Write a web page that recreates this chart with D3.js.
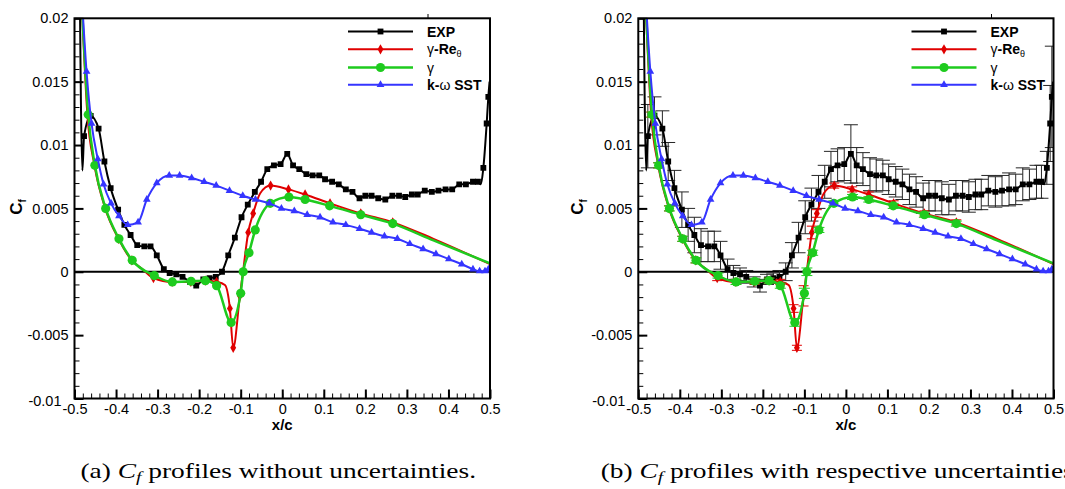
<!DOCTYPE html>
<html><head><meta charset="utf-8">
<script src="https://cdn.jsdelivr.net/npm/d3@7"></script>
<style>html,body{margin:0;padding:0;background:#fff;}svg{display:block;}</style>
</head><body>
<svg id="fig" width="1065" height="489"></svg>
<script>
// ---------- data ----------
const xTickVals = [-0.5,-0.4,-0.3,-0.2,-0.1,0,0.1,0.2,0.3,0.4,0.5];
const xTickLabels = ["-0.5","-0.4","-0.3","-0.2","-0.1","0","0.1","0.2","0.3","0.4","0.5"];
const yTickVals = [-0.01,-0.005,0,0.005,0.01,0.015,0.02];
const yTickLabels = ["-0.01","-0.005","0","0.005","0.01","0.015","0.02"];

const expX = [-0.488,-0.481,-0.477,-0.461,-0.442,-0.428,-0.413,-0.395,-0.380,-0.365,-0.349,-0.332,-0.317,-0.302,-0.285,-0.271,-0.255,-0.240,-0.222,-0.207,-0.190,-0.175,-0.160,-0.145,-0.130,-0.114,-0.098,-0.083,-0.066,-0.051,-0.036,-0.020,-0.004,0.012,0.026,0.041,0.058,0.073,0.089,0.103,0.120,0.136,0.153,0.169,0.186,0.200,0.215,0.231,0.248,0.265,0.281,0.296,0.312,0.326,0.343,0.360,0.376,0.393,0.409,0.426,0.442,0.459,0.471,0.478,0.484,0.492,0.496,0.499];
const expY = [0.0250,0.0080,0.0107,0.0123,0.0113,0.0087,0.0066,0.0049,0.0037,0.0029,0.0021,0.0020,0.0020,0.0013,0.0002,-0.0001,-0.0002,-0.0004,-0.0008,-0.0011,-0.0006,-0.0005,-0.0004,0.0000,0.0013,0.0027,0.0043,0.0053,0.0063,0.0071,0.0081,0.0084,0.0085,0.0093,0.0084,0.0081,0.0077,0.0076,0.0076,0.0073,0.0071,0.0069,0.0065,0.0063,0.0058,0.0060,0.0060,0.0058,0.0057,0.0060,0.0060,0.0059,0.0061,0.0061,0.0064,0.0063,0.0064,0.0065,0.0065,0.0069,0.0069,0.0071,0.0071,0.0069,0.0082,0.0117,0.0138,0.0150];
const expErr = [0,0,0.0025,0.0015,0.0014,0.0015,0.0014,0.0014,0.0013,0.0014,0.0013,0.0012,0.0012,0.0011,0.0008,0.0006,0.0005,0.0005,0.0004,0.0005,0.0004,0.0004,0.0005,0.0007,0.0010,0.0012,0.0013,0.0013,0.0013,0.0013,0.0014,0.0013,0.0013,0.0023,0.0014,0.0013,0.0013,0.0013,0.0012,0.0012,0.0012,0.0012,0.0012,0.0012,0.0012,0.0012,0.0012,0.0013,0.0012,0.0012,0.0012,0.0012,0.0012,0.0012,0.0012,0.0012,0.0012,0.0013,0.0012,0.0013,0.0012,0.0013,0.0013,0,0.0013,0.0030,0.0040,0];
const expUnmarked = [0,1,63,67];

const reX = [-0.483,-0.469,-0.452,-0.426,-0.394,-0.362,-0.340,-0.310,-0.265,-0.220,-0.185,-0.158,-0.138,-0.126,-0.118,-0.102,-0.094,-0.082,-0.070,-0.053,-0.028,0.015,0.055,0.115,0.189,0.266,0.364,0.500];
const reY = [0.0215,0.0124,0.0084,0.0050,0.0026,0.0009,0.0003,-0.0005,-0.0008,-0.0008,-0.0007,-0.0008,-0.00105,-0.0029,-0.0060,-0.0019,0.0001,0.0031,0.0046,0.0062,0.0068,0.0065,0.0061,0.0054,0.0046,0.0039,0.0026,0.0006];
const reErr = [0,0.0002,0.0002,0.0002,0.0002,0.0002,0,0.0002,0.0002,0.0002,0.0002,0.0002,0,0.0003,0.0002,0.0008,0,0.0005,0.0003,0,0.0002,0.0002,0.0002,0.0002,0.0002,0.0002,0,0];
const reUnmarked = [0,6,12,16,19,26,27];

const gaX = [-0.483,-0.467,-0.451,-0.425,-0.393,-0.361,-0.308,-0.2645,-0.2195,-0.185,-0.158,-0.123,-0.100,-0.094,-0.080,-0.065,-0.029,0.016,0.055,0.114,0.189,0.266,0.364,0.500];
const gaY = [0.0215,0.0124,0.0084,0.0050,0.0026,0.0009,-0.0003,-0.0008,-0.00075,-0.0007,-0.0011,-0.0040,-0.0017,0.0000,0.0015,0.0033,0.0054,0.0059,0.0057,0.0052,0.0045,0.0038,0.00247,0.00066];
const gaErr = [0,0.0002,0.0002,0.0002,0.0002,0.0002,0.0002,0.0002,0.0002,0.0002,0.0002,0.0003,0.0004,0.0003,0.0002,0.0002,0.0002,0.0002,0.0002,0.0002,0.0002,0.0002,0,0];
const gaUnmarked = [0,22,23];

const sstX = [-0.482,-0.471,-0.459,-0.444,-0.430,-0.412,-0.393,-0.372,-0.347,-0.326,-0.302,-0.272,-0.247,-0.218,-0.188,-0.159,-0.127,-0.095,-0.0645,-0.031,-0.002,0.029,0.060,0.091,0.122,0.153,0.186,0.215,0.246,0.277,0.307,0.339,0.370,0.401,0.432,0.459,0.475,0.488,0.496,0.500];
const sstY = [0.0215,0.0158,0.0117,0.0089,0.0069,0.0054,0.0044,0.0037,0.0039,0.0057,0.0070,0.0076,0.0076,0.0074,0.0071,0.0068,0.0064,0.0060,0.0057,0.0054,0.0050,0.0048,0.0045,0.0043,0.0039,0.0037,0.0034,0.0031,0.0028,0.0026,0.0022,0.0018,0.0014,0.0010,0.0006,0.0002,0.00005,0.00005,0.0002,0.0002];
const sstUnmarked = [0];

const legendLabels = ["EXP","γ-Reθ","γ","k-ω SST"];
const xLabel = "x/c";
const yLabelMain = "C", yLabelSub = "f";
const captionA = ["(a) ","C","f"," profiles without uncertainties."];
const captionB = ["(b) ","C","f"," profiles with respective uncertainties."];

// ---------- drawing ----------
const svg = d3.select('#fig');
const SANS = '"Liberation Sans", Arial, Helvetica, sans-serif';
const SERIF = '"Liberation Serif", "Times New Roman", serif';
const yTop = 18.3, yBot = 398.5;

const series = [
  {label: legendLabels[0], xs: expX, ys: expY, err: expErr, skip: expUnmarked, color:'#000000', width:2, sym:d3.symbolSquare, size:34, cap:7, errColor:'#262626'},
  {label: legendLabels[1], xs: reX, ys: reY, err: reErr, skip: reUnmarked, color:'#e00000', width:2, sym:d3.symbolDiamond, size:30, cap:5, errColor:'#e00000'},
  {label: legendLabels[2], xs: gaX, ys: gaY, err: gaErr, skip: gaUnmarked, color:'#1ecb1e', width:2.5, sym:d3.symbolCircle, size:66, cap:5.5, errColor:'#1ecb1e'},
  {label: legendLabels[3], xs: sstX, ys: sstY, err: null, skip: sstUnmarked, color:'#3535ff', width:2, sym:d3.symbolTriangle, size:26, cap:0, errColor:'#3535ff'}
];

const panels = [
  {x0:74.5, x1:490, withErr:false, cap:captionA, capX:80.5, ylabX:22},
  {x0:638.3, x1:1053.5, withErr:true, cap:captionB, capX:600.7, ylabX:583}
];

function addLabelTspans(t, label){
  const parts = [];
  let buf = '';
  for (const ch of label){
    if (ch === 'γ' || ch === 'ω' || ch === 'θ'){
      if (buf) parts.push({s:buf, kind:'b'});
      buf='';
      parts.push({s:ch, kind: ch==='θ' ? 'sub' : 'n'});
    } else buf += ch;
  }
  if (buf) parts.push({s:buf, kind:'b'});
  parts.forEach(p => {
    const ts = t.append('tspan').text(p.s);
    if (p.kind === 'b') ts.attr('font-weight','bold');
    else if (p.kind === 'n') ts.attr('font-weight','normal');
    else ts.attr('font-weight','normal').attr('font-size', 9).attr('dy', 3);
  });
}

panels.forEach((P, pi) => {
  const x = d3.scaleLinear().domain([xTickVals[0], xTickVals[xTickVals.length-1]]).range([P.x0, P.x1]);
  const y = d3.scaleLinear().domain([yTickVals[0], yTickVals[yTickVals.length-1]]).range([yBot, yTop]);
  const g = svg.append('g');
  const clipId = 'clip' + pi;
  svg.append('clipPath').attr('id', clipId).append('rect')
    .attr('x', P.x0).attr('y', yTop).attr('width', P.x1-P.x0).attr('height', yBot-yTop);

  g.append('g').attr('transform', `translate(${P.x0},0)`)
    .call(d3.axisLeft(y).ticks(30).tickSize(-5).tickFormat(''))
    .call(s => { s.select('.domain').remove(); s.selectAll('line').attr('stroke','#000').attr('stroke-width',1); });
  g.append('g').attr('transform', `translate(0,${yBot})`)
    .call(d3.axisBottom(x).ticks(50).tickSize(-5).tickFormat(''))
    .call(s => { s.select('.domain').remove(); s.selectAll('line').attr('stroke','#000').attr('stroke-width',1); });

  const yAx = g.append('g').attr('transform', `translate(${P.x0},0)`)
    .call(d3.axisLeft(y).tickValues(yTickVals).tickSize(-9).tickPadding(6)
      .tickFormat((d,i) => yTickLabels[i]));
  yAx.select('.domain').remove();
  yAx.selectAll('line').attr('stroke','#000').attr('stroke-width',2);
  yAx.selectAll('text').attr('font-family', SANS).attr('font-size', 14.5).attr('fill','#000');
  yAx.selectAll('.tick').filter(d => d === yTickVals[0]).select('text').attr('x', -13).attr('dy','0.45em');

  const xAx = g.append('g').attr('transform', `translate(0,${yBot})`)
    .call(d3.axisBottom(x).tickValues(xTickVals).tickSize(-9).tickPadding(5)
      .tickFormat((d,i) => xTickLabels[i]));
  xAx.select('.domain').remove();
  xAx.selectAll('line').attr('stroke','#000').attr('stroke-width',2);
  xAx.selectAll('text').attr('font-family', SANS).attr('font-size', 14.5).attr('fill','#000');

  g.append('line').attr('x1', P.x0).attr('x2', P.x1).attr('y1', y(0)).attr('y2', y(0))
    .attr('stroke','#000').attr('stroke-width',2);

  const plot = g.append('g').attr('clip-path', `url(#${clipId})`);
  const line = d3.line().curve(d3.curveMonotoneX);

  series.forEach(S => {
    const pts = S.xs.map((v,i) => [x(v), y(S.ys[i])]);
    if (P.withErr && S.err){
      const eg = plot.append('g').attr('stroke', S.errColor).attr('stroke-width', 1).attr('fill','none');
      S.xs.forEach((v,i) => {
        const e = S.err[i];
        if (!e) return;
        const cx = x(v), yl = y(S.ys[i]-e), yh = y(S.ys[i]+e);
        eg.append('line').attr('x1',cx).attr('x2',cx).attr('y1',yl).attr('y2',yh);
        eg.append('line').attr('x1',cx-S.cap).attr('x2',cx+S.cap).attr('y1',yl).attr('y2',yl);
        eg.append('line').attr('x1',cx-S.cap).attr('x2',cx+S.cap).attr('y1',yh).attr('y2',yh);
      });
    }
    plot.append('path').attr('d', line(pts)).attr('fill','none')
      .attr('stroke', S.color).attr('stroke-width', S.width).attr('stroke-linejoin','round');
    const sym = d3.symbol().type(S.sym).size(S.size);
    plot.append('g').selectAll('path')
      .data(pts.filter((p,i) => !S.skip.includes(i)))
      .join('path').attr('d', sym).attr('transform', p => `translate(${p[0]},${p[1]})`)
      .attr('fill', S.color);
  });

  g.append('rect').attr('x', P.x0).attr('y', yTop).attr('width', P.x1-P.x0).attr('height', yBot-yTop)
    .attr('fill','none').attr('stroke','#000').attr('stroke-width',2);

  const rowY = [31.5, 49.3, 67.5, 84.8];
  series.forEach((S, i) => {
    const lx0 = P.x1 - 142, lx1 = P.x1 - 77, mx = (lx0+lx1)/2;
    g.append('line').attr('x1', lx0).attr('x2', lx1).attr('y1', rowY[i]).attr('y2', rowY[i])
      .attr('stroke', S.color).attr('stroke-width', S.width);
    g.append('path').attr('d', d3.symbol().type(S.sym).size(S.size)()).attr('transform', `translate(${mx},${rowY[i]})`)
      .attr('fill', S.color);
    const t = g.append('text').attr('x', P.x1 - 63).attr('y', rowY[i] + 5)
      .attr('font-family', SANS).attr('font-size', 14).attr('fill','#000');
    addLabelTspans(t, S.label);
  });
  // small mark above the legend text column
  g.append('line').attr('x1', P.x1 - 62).attr('x2', P.x1 - 62).attr('y1', 14).attr('y2', yTop)
    .attr('stroke','#000').attr('stroke-width',1);

  g.append('text').attr('x', (P.x0+P.x1)/2).attr('y', 430).attr('text-anchor','middle')
    .attr('font-family', SANS).attr('font-size', 15).attr('font-weight','bold').text(xLabel);
  const yl = g.append('text').attr('transform', `translate(${P.ylabX},207) rotate(-90)`)
    .attr('text-anchor','middle').attr('font-family', SANS).attr('font-size', 17).attr('font-weight','bold');
  yl.append('tspan').text(yLabelMain);
  yl.append('tspan').text(yLabelSub).attr('font-size', 10).attr('dy', 4);
});

const capNodes = panels.map(P => {
  const t = svg.append('text').attr('x', P.capX).attr('y', 478)
    .attr('font-family', SERIF).attr('font-size', 21).attr('fill','#000');
  t.append('tspan').text(P.cap[0]);
  t.append('tspan').text(P.cap[1]).attr('font-style','italic');
  t.append('tspan').text(P.cap[2]).attr('font-style','italic').attr('font-size', 15).attr('dy', 4);
  t.append('tspan').text(P.cap[3]).attr('dy', -4);
  return t;
});
const lenA = capNodes[0].node().getComputedTextLength();
const lenB = capNodes[1].node().getComputedTextLength();
const k = 395.5 / lenA;
capNodes[0].attr('textLength', 395.5).attr('lengthAdjust','spacingAndGlyphs');
capNodes[1].attr('textLength', lenB * k).attr('lengthAdjust','spacingAndGlyphs');
</script>
</body></html>
